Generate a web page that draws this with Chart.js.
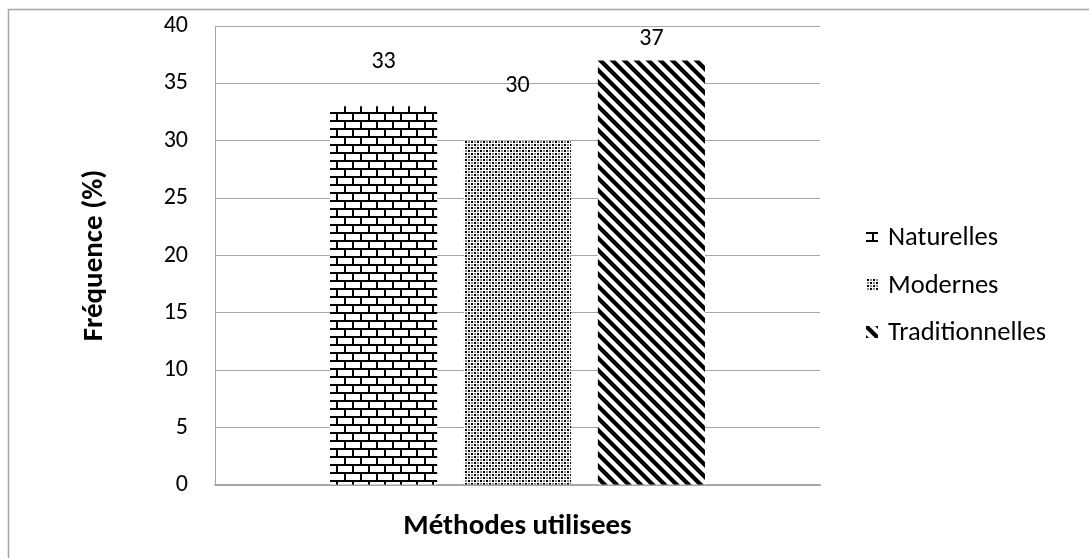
<!DOCTYPE html>
<html>
<head>
<meta charset="utf-8">
<script src="https://cdn.jsdelivr.net/npm/chart.js@4.4.1/dist/chart.umd.min.js"></script>
<style>
  html, body { margin: 0; padding: 0; background: #fff; }
  #wrap { width: 1089px; height: 558px; position: relative; }
</style>
</head>
<body>
<div id="wrap"><canvas id="chart" width="1089" height="558"></canvas></div>
<script>
// Values
const categories = [''];
const seriesNames = ['Naturelles', 'Modernes', 'Traditionnelles'];
const seriesValues = [33, 30, 37];
const yMin = 0;
const yMax = 40;
const yStep = 5;
const xTitle = 'Méthodes utilisees';
const yTitle = 'Fréquence (%)';

const FONT = "Carlito, Lato, 'Open Sans', sans-serif";
const GRID = '#a6a6a6';

// Fill patterns
function makeTile(w, h, draw) {
  const c = document.createElement('canvas');
  c.width = w; c.height = h;
  const g = c.getContext('2d');
  g.fillStyle = '#fff';
  g.fillRect(0, 0, w, h);
  draw(g, w, h);
  return c;
}
const ctx0 = document.getElementById('chart').getContext('2d');

const brickTile = makeTile(16, 16, (g) => {
  g.fillStyle = '#000';
  g.fillRect(0, 0, 16, 2);
  g.fillRect(0, 8, 16, 2);
  g.fillRect(0, 2, 2, 6);
  g.fillRect(8, 10, 2, 6);
});
const dotTile = makeTile(6, 6, (g) => {
  g.fillStyle = '#000';
  g.fillRect(0, 0, 2, 2);
  g.fillRect(3, 3, 2, 2);
  g.fillStyle = '#8a8a8a';
  g.fillRect(3, 0, 2, 2);
  g.fillRect(0, 3, 2, 2);
});
const diagTile = makeTile(12, 12, (g) => {
  g.strokeStyle = '#000';
  g.lineWidth = 4.2;
  for (const dx of [-12, 0, 12]) {
    g.beginPath();
    g.moveTo(dx - 2, -2);
    g.lineTo(dx + 14, 14);
    g.stroke();
  }
});
const patterns = [
  ctx0.createPattern(brickTile, 'repeat'),
  ctx0.createPattern(dotTile, 'repeat'),
  ctx0.createPattern(diagTile, 'repeat')
];

// Per-series label lift above the bar top (px)
const labelLift = [44, 55, 21];

const backgroundPlugin = {
  id: 'frame',
  beforeDraw(chart) {
    const c = chart.ctx;
    c.save();
    c.fillStyle = '#fff';
    c.fillRect(0, 0, chart.width, chart.height);
    c.strokeStyle = GRID;
    c.lineWidth = 1.5;
    c.strokeRect(8.5, 9.5, chart.width + 20, chart.height + 20);
    c.restore();
  }
};

const valueLabels = {
  id: 'valueLabels',
  afterDatasetsDraw(chart) {
    const c = chart.ctx;
    c.save();
    c.font = '24px ' + FONT;
    c.fillStyle = '#000';
    c.textAlign = 'center';
    c.textBaseline = 'middle';
    chart.data.datasets.forEach((ds, i) => {
      const meta = chart.getDatasetMeta(i);
      meta.data.forEach((bar, j) => {
        c.fillText(String(ds.data[j]), bar.x, bar.y - labelLift[i]);
      });
    });
    c.restore();
  }
};

const sideLegend = {
  id: 'sideLegend',
  afterDraw(chart) {
    const c = chart.ctx;
    const x0 = chart.chartArea.right + 46;
    const rows = [237, 285, 332];
    c.save();
    c.font = '26.5px ' + FONT;
    c.textAlign = 'left';
    c.textBaseline = 'middle';
    chart.data.datasets.forEach((ds, i) => {
      const y = rows[i];
      c.fillStyle = ds.backgroundColor;
      c.fillRect(x0, y - 6, 12, 12);
      c.fillStyle = '#000';
      c.fillText(ds.label, x0 + 22, y + 1);
    });
    c.restore();
  }
};

new Chart(ctx0, {
  type: 'bar',
  data: {
    labels: categories,
    datasets: seriesNames.map((name, i) => ({
      label: name,
      data: [seriesValues[i]],
      backgroundColor: patterns[i],
      borderWidth: 0
    }))
  },
  options: {
    responsive: false,
    animation: false,
    events: [],
    categoryPercentage: 0.664,
    barPercentage: 0.8,
    layout: { padding: { left: 0, right: 269, top: 26, bottom: 0 } },
    plugins: {
      legend: { display: false },
      tooltip: { enabled: false }
    },
    scales: {
      x: {
        grid: { display: false, drawTicks: false },
        border: { display: true, color: GRID, width: 1.5 },
        ticks: { display: false },
        title: {
          display: true,
          text: xTitle,
          color: '#000',
          font: { family: FONT, size: 29, weight: 'bold' },
          padding: { top: 0, bottom: 13.6 }
        },
        afterFit(scale) { scale.height = 73; }
      },
      y: {
        min: yMin,
        max: yMax,
        ticks: {
          stepSize: yStep,
          color: '#000',
          padding: 0,
          font: { family: FONT, size: 24 }
        },
        grid: { color: GRID, lineWidth: 1, drawTicks: true, tickLength: 27, tickColor: 'rgba(0,0,0,0)' },
        border: { display: true, color: GRID, width: 1 },
        title: {
          display: true,
          text: yTitle,
          color: '#000',
          font: { family: FONT, size: 29, weight: 'bold' },
          padding: { top: 77.6, bottom: 0 }
        },
        afterFit(scale) { scale.width = 215; }
      }
    }
  },
  plugins: [backgroundPlugin, valueLabels, sideLegend]
});
</script>
</body>
</html>
